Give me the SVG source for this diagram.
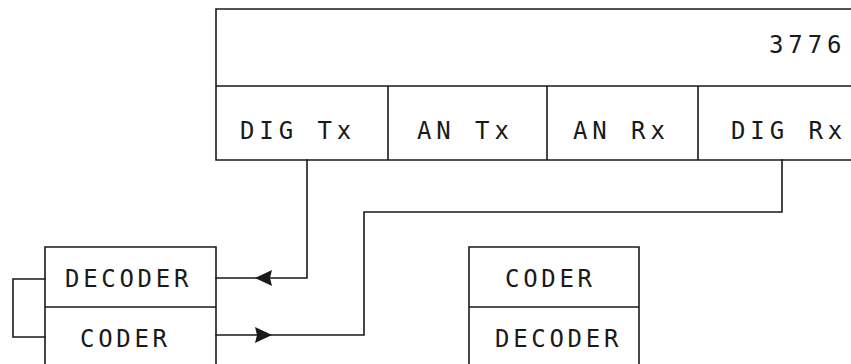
<svg xmlns="http://www.w3.org/2000/svg" width="851" height="364" viewBox="0 0 851 364">
<style>
.ln{fill:none;stroke:#1a1a1a;stroke-width:1.6;stroke-linecap:square}
.t{font-family:"DejaVu Sans Mono","Liberation Mono",monospace;font-size:24px;fill:#1a1a1a;letter-spacing:4.9px}
.t2{letter-spacing:3.7px}
.ar{fill:#1a1a1a}
</style>
<defs>
<path id="arrowL" d="M0,0 L17,-8 L15,0 L17,8 Z"/>
<path id="arrowR" d="M0,0 L-17,-8 L-15,0 L-17,8 Z"/>
</defs>
<rect width="851" height="364" fill="#fff"/>
<g id="unit3776">
<path class="ln" d="M851,9 H216 V160 H851 M216,86 H851 M388,86 V160 M547,86 V160 M698,86 V160"/>
<text class="t" x="769" y="53">3776</text>
<text class="t" x="240" y="139">DIG Tx</text>
<text class="t" x="417" y="139">AN Tx</text>
<text class="t" x="573" y="139">AN Rx</text>
<text class="t" x="731" y="139">DIG Rx</text>
</g>
<g id="codecLeft">
<path class="ln" d="M45,364 V247 H216 V364 M45,307 H216"/>
<text class="t t2" x="65" y="287">DECODER</text>
<text class="t t2" x="80" y="347">CODER</text>
</g>
<g id="codecRight">
<path class="ln" d="M469,364 V247 H639 V364 M469,307 H639"/>
<text class="t t2" x="505" y="287">CODER</text>
<text class="t t2" x="495" y="347">DECODER</text>
</g>
<g id="connectors">
<path class="ln" d="M307,160 V278 H216"/>
<path class="ln" d="M782,160 V212 H364 V335 H216"/>
<path class="ln" d="M45,279 H13 V337 H45"/>
<use class="ar" href="#arrowL" x="255" y="278"/>
<use class="ar" href="#arrowR" x="272" y="335"/>
</g>
</svg>
